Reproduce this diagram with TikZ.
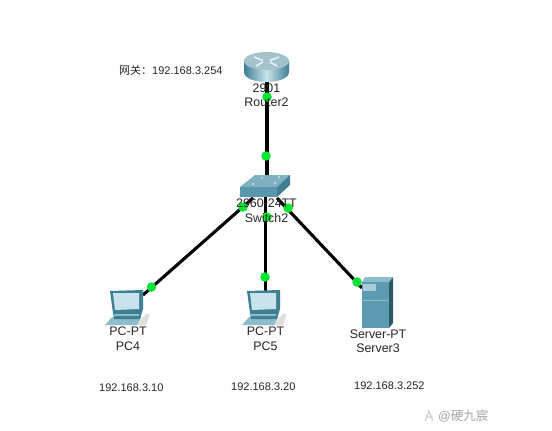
\documentclass[tikz,border=0pt]{standalone}
\usepackage{fontspec}
\setmainfont{Liberation Sans}
\newfontfamily\cjk{Noto Sans CJK SC}
\definecolor{lnk}{HTML}{00E632}
\definecolor{tealD}{HTML}{3F7F94}
\definecolor{tealM}{HTML}{5E9BB0}
\definecolor{tealL}{HTML}{8FBCCB}
\definecolor{tealP}{HTML}{C9E3EC}
\definecolor{routerT}{HTML}{A3C2CE}
\tikzset{
  x=1pt,y=-1pt,
  lbl/.style={font=\fontsize{12.4}{14.5}\selectfont,text=black!85,align=center,inner sep=0pt},
  ip/.style={font=\fontsize{11}{13}\selectfont,text=black!85,inner sep=0pt,anchor=west},
  wire/.style={line width=3.1pt,black},
  led/.style={circle,fill=lnk,draw=none,minimum size=9.5pt,inner sep=0pt},
  anchorpt/.style={inner sep=0pt,minimum size=0pt}
}
\newcommand{\pcicon}[1]{%
 \begin{scope}[shift={(#1,0)}]
  \fill[black!13] (135,325) -- (146,314) -- (150,314) -- (146,325) -- cycle;
  \fill[tealL] (105,325) -- (112,317) -- (141,317) -- (137,325) -- cycle;
  \fill[tealD] (110,291) -- (143,290) -- (143,309) -- (140,319) -- (114,319) -- (113,313) -- cycle;
  \fill[tealL] (114,314) -- (139,314) -- (139,316) -- (114,316) -- cycle;
  \fill[tealP] (113,293) -- (139,293) -- (139,309) -- (115,310) -- cycle;
 \end{scope}}
\begin{document}
\begin{tikzpicture}
\useasboundingbox (0,0) rectangle (552,431);
\fill[white] (0,0) rectangle (552,431);
% device anchors
\node[anchorpt] (router) at (267,72) {};
\node[anchorpt] (switch) at (267,187) {};
\coordinate (swL) at (253,198);
\coordinate (swR) at (277,198);
\coordinate (swM) at (265.5,197);
\coordinate (pcaT) at (143,295);
\coordinate (pcbT) at (265.5,291);
\coordinate (srvT) at (362,288);
% wires
\draw[wire] (router) -- (switch);
\draw[wire] (swL) -- (pcaT);
\draw[wire] (swM) -- (pcbT);
\draw[wire] (swR) -- (srvT);
% router icon
\shade[left color=tealD,right color=tealD,middle color=tealP]
  (244,61) -- (244,72) .. controls (244,78) and (254,82) .. (266.5,82) .. controls (279,82) and (289,78) .. (289,72) -- (289,61) -- cycle;
\fill[routerT] (266.5,61) ellipse[x radius=22.5,y radius=9];
\draw[white!85!tealL,line width=1.5pt] (254,57) -- (263,60.5) (279,57) -- (270,60.5) (256,66) -- (263,62) (277,66) -- (270,62);
% switch icon
\fill[tealL!80!tealD] (240,187) -- (255,175) -- (290,175) -- (277,187) -- cycle;
\fill[tealM!85!tealD] (240,187) rectangle (277,197);
\fill[tealD] (277,187) -- (290,175) -- (290,185) -- (277,197) -- cycle;
\fill[white] (253,184) circle[radius=.9] (275,183) circle[radius=.9] (262,178) circle[radius=.9] (279,177) circle[radius=.9];
% pc icons
\pcicon{0}
\pcicon{137}
% server icon
\fill[tealD!70!black] (389,282) -- (393,277) -- (393,323) -- (389,328) -- cycle;
\fill[tealL] (362,282) -- (365,277) -- (393,277) -- (389,282) -- cycle;
\fill[tealM] (362,282) rectangle (389,328);
\fill[tealP!70!tealM] (363,284) rectangle (376,291);
\draw[tealL] (362,300) -- (389,300);
% LEDs
\node[led] (l1) at (267,97) {};
\node[led] (l2) at (266,156) {};
\node[led] (l3) at (243,207) {};
\node[led] (l4) at (267,217) {};
\node[led] (l5) at (288,208) {};
\node[led] (l6) at (151.5,287) {};
\node[led] (l7) at (265,277) {};
\node[led] (l8) at (357,282) {};
% labels
\node[lbl] (t1) at (266.5,95) {2901\\Router2};
\node[lbl] (t2) at (266.5,210.5) {2960-24TT\\Switch2};
\node[lbl] (t3) at (128,338.5) {PC-PT\\PC4};
\node[lbl] (t4) at (265.5,338.5) {PC-PT\\PC5};
\node[lbl] (t5) at (378,341) {Server-PT\\Server3};
\node[ip] (a0) at (119,70.5) {{\cjk\fontsize{11}{13}\selectfont 网关：}192.168.3.254};
\node[ip] (a1) at (99,388) {192.168.3.10};
\node[ip] (a2) at (231,387) {192.168.3.20};
\node[ip] (a3) at (354,386) {192.168.3.252};
% watermark
\node[inner sep=0pt,anchor=west,text=black!35] (wm) at (438,416) {\fontsize{12.5}{14}\selectfont @\cjk 硬九宸};
\draw[black!22,line width=1pt] (425,421) -- (429,411) -- (433,421) (427,417) -- (431,417);
\end{tikzpicture}
\end{document}
